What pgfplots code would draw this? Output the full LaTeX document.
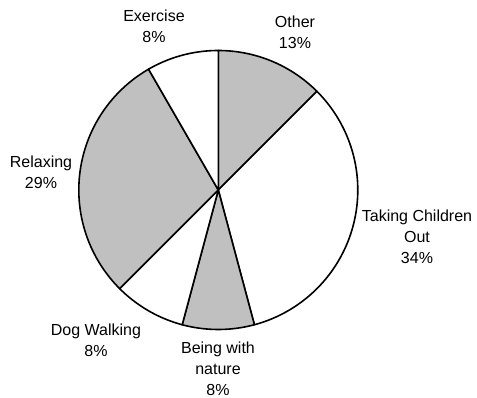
\documentclass[border=0pt]{standalone}
\usepackage{fontspec}
\setmainfont{Liberation Sans}
\usepackage{pgfplots}
\pgfplotsset{compat=1.18}
\definecolor{slicegray}{RGB}{192,192,192}
\tikzset{lbl/.style={font=\fontsize{16}{21}\selectfont,align=center,inner sep=0pt}}
\begin{document}
\begin{tikzpicture}
\begin{axis}[x=1pt,y=1pt,xmin=0,xmax=477,ymin=0,ymax=398,hide axis,scale only axis,clip=false]
\path (axis cs:0,0) rectangle (axis cs:477,398);
% shares (counts out of 24): Other 3, Taking Children Out 8, Being with nature 2, Dog Walking 2, Relaxing 7, Exercise 2
% Other: 90 -> 45
\addplot[fill=slicegray,draw=black,line width=1.6pt,line join=round,domain=45:90,samples=40]
  ({218.3+139.5*cos(x)},{208+139.5*sin(x)}) -- (axis cs:218.3,208) -- cycle;
% Taking Children Out: 45 -> -75
\addplot[fill=white,draw=black,line width=1.6pt,line join=round,domain=-75:45,samples=80]
  ({218.3+139.5*cos(x)},{208+139.5*sin(x)}) -- (axis cs:218.3,208) -- cycle;
% Being with nature: -75 -> -105
\addplot[fill=slicegray,draw=black,line width=1.6pt,line join=round,domain=-105:-75,samples=30]
  ({218.3+139.5*cos(x)},{208+139.5*sin(x)}) -- (axis cs:218.3,208) -- cycle;
% Dog Walking: -105 -> -135
\addplot[fill=white,draw=black,line width=1.6pt,line join=round,domain=-135:-105,samples=30]
  ({218.3+139.5*cos(x)},{208+139.5*sin(x)}) -- (axis cs:218.3,208) -- cycle;
% Relaxing: -135 -> -240
\addplot[fill=slicegray,draw=black,line width=1.6pt,line join=round,domain=120:225,samples=70]
  ({218.3+139.5*cos(x)},{208+139.5*sin(x)}) -- (axis cs:218.3,208) -- cycle;
% Exercise: 120 -> 90
\addplot[fill=white,draw=black,line width=1.6pt,line join=round,domain=90:120,samples=30]
  ({218.3+139.5*cos(x)},{208+139.5*sin(x)}) -- (axis cs:218.3,208) -- cycle;
\node[lbl] at (axis cs:154,372) {Exercise\\8\%};
\node[lbl] at (axis cs:295,366) {Other\\13\%};
\node[lbl] at (axis cs:417,161.5) {Taking Children\\Out\\34\%};
\node[lbl] at (axis cs:218,29) {Being with\\nature\\8\%};
\node[lbl] at (axis cs:96,58) {Dog Walking\\8\%};
\node[lbl] at (axis cs:41,226) {Relaxing\\29\%};
\end{axis}
\end{tikzpicture}
\end{document}
